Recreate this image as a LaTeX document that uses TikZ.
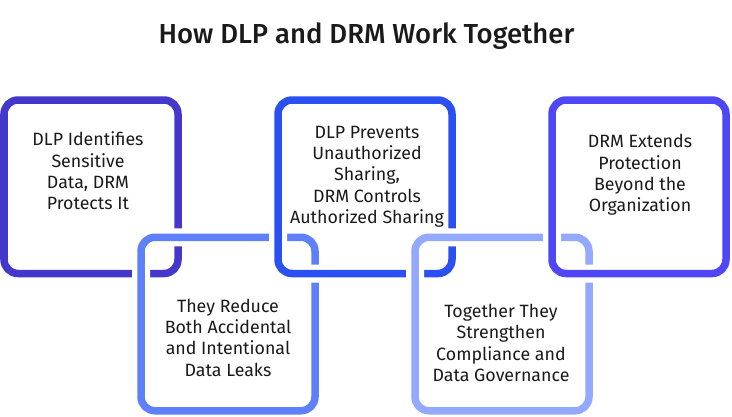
\documentclass[tikz,border=0pt]{standalone}
\usepackage{fontspec}
\setmainfont{Fira Sans}
\newfontfamily\titlefont{Fira Sans Medium}
\definecolor{cA}{HTML}{4338CA}
\definecolor{cB}{HTML}{5F80FB}
\definecolor{cC}{HTML}{2B50F2}
\definecolor{cD}{HTML}{93A8FF}
\definecolor{cE}{HTML}{4F46F5}
\definecolor{ink}{HTML}{1A1A1A}
\tikzset{
  ring/.style={draw=#1, line width=7.5pt, rounded corners=14pt,
    minimum width=174pt, minimum height=173.5pt, inner sep=0pt,
    preaction={draw=white, line width=18pt}},
  lbl/.style={align=center, text=ink, inner sep=0pt,
    font=\fontsize{17.8}{21.3}\selectfont},
}
\begin{document}
\begin{tikzpicture}[x=1pt, y=-1pt]
\useasboundingbox (0,0) rectangle (732,416);
\node[anchor=base, text=ink, font=\fontsize{27.5}{31}\titlefont] (title) at (366.5,43.3) {How DLP and DRM Work Together};
\node[ring=cA] (b1) at (91,186.75) {};
\node[ring=cB] (b2) at (228,324) {};
\node[ring=cC] (b3) at (365,186.75) {};
\node[ring=cD] (b4) at (502,324) {};
\node[ring=cE] (b5) at (639,186.75) {};
\node[lbl] (t1) at (88,171) {DLP Identifies\\Sensitive\\Data, DRM\\Protects It};
\node[lbl] (t2) at (228,337.5) {They Reduce\\Both Accidental\\and Intentional\\Data Leaks};
\node[lbl] (t3) at (367,176.5) {DLP Prevents\\Unauthorized\\Sharing,\\DRM Controls\\Authorized Sharing};
\node[lbl] (t4) at (501,343) {Together They\\Strengthen\\Compliance and\\Data Governance};
\node[lbl] (t5) at (640,175) {DRM Extends\\Protection\\Beyond the\\Organization};
\end{tikzpicture}
\end{document}
